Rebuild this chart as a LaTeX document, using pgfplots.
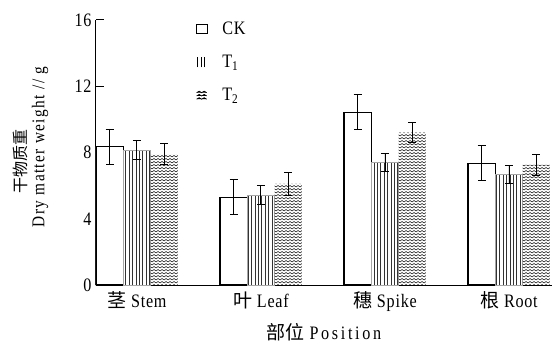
\documentclass[border=0pt]{standalone}
\usepackage{fontspec}
\setmainfont{Liberation Serif}[FakeStretch=0.85, LetterSpace=4]
\newfontfamily\wide{Liberation Serif}[FakeStretch=0.85, LetterSpace=14]
\newfontfamily\midspaced{Liberation Serif}[FakeStretch=0.85, LetterSpace=8]
\newfontfamily\cjk{Noto Sans CJK SC}
\usepackage{pgfplots}
\pgfplotsset{compat=1.18}
\usetikzlibrary{patterns,patterns.meta}
\pgfdeclarepatternformonly{zigzag}{\pgfqpoint{-1pt}{-1pt}}{\pgfqpoint{5pt}{4pt}}{\pgfqpoint{4pt}{3pt}}{%
  \pgfsetlinewidth{0.6pt}%
  \pgfpathmoveto{\pgfqpoint{0pt}{0pt}}%
  \pgfpathlineto{\pgfqpoint{2pt}{1.5pt}}%
  \pgfpathlineto{\pgfqpoint{4pt}{0pt}}%
  \pgfusepath{stroke}}
\begin{document}
\begin{tikzpicture}
\useasboundingbox (-96pt,-58pt) rectangle (456pt,285pt);
\begin{axis}[
  scale only axis, width=456pt, height=265pt,
  xmin=0, xmax=3.677, ymin=0, ymax=16,
  axis x line=bottom, axis y line=left,
  axis line style={-, line width=1pt},
  ytick={0,4,8,12,16},
  tick align=inside,
  major tick length=8pt,
  tick style={black, line width=1pt},
  xtick={0.33,1.33,2.33,3.33},
  xticklabels={{\cjk 茎} Stem,{\cjk 叶} Leaf,{\cjk 穗} Spike,{\cjk 根} Root},
  x tick style={draw=none},
  minor xtick={1,2,3},
  minor tick length=5pt,
  minor x tick style={black, line width=1pt},
  tick label style={font=\fontsize{19}{21}\selectfont},
  /pgf/number format/assume math mode=true,
  yticklabel style={xshift=-1pt},
  xticklabel style={yshift=-3pt},
  xlabel={{\cjk 部位} {\wide Position}},
  xlabel style={font=\fontsize{19}{21}\selectfont, yshift=-5pt},
  legend style={at={(rel axis cs:0.219,1.0)}, anchor=north west, draw=none, fill=none,
    font=\fontsize{19}{21}\selectfont, row sep=15pt, inner sep=0pt},
  legend cell align=left,
  error bars/error bar style={black, line width=0.9pt},
  error bars/error mark options={rotate=90, mark size=4pt, line width=0.9pt, black},
]
\addplot[ybar, bar width=0.22, bar shift=0pt, draw=black, line width=1.2pt, fill=white,
  legend image code/.code={\path (0pt,0pt) (23pt,0pt); \draw[black, fill=white, line width=1pt] (0pt,-4.5pt) rectangle (11pt,4.5pt);},
  error bars/.cd, y dir=both, y explicit]
coordinates {(0.11,8.35) +- (0,1.07) (1.11,5.3) +- (0,1.07) (2.11,10.43) +- (0,1.06) (3.11,7.35) +- (0,1.06)};
\addlegendentry{CK}
\addplot[ybar, bar width=0.22, bar shift=0pt, draw=gray!70, line width=0.5pt,
  pattern={Lines[angle=90, distance=3.4pt, line width=0.8pt]}, pattern color=black!80,
  legend image code/.code={\path (0pt,0pt) (23pt,0pt); \draw[black, line width=1pt] (1pt,-5pt)--(1pt,5pt) (4.5pt,-5pt)--(4.5pt,5pt) (8pt,-5pt)--(8pt,5pt);},
  error bars/.cd, y dir=both, y explicit]
coordinates {(0.33,8.15) +- (0,0.56) (1.33,5.43) +- (0,0.57) (2.33,7.39) +- (0,0.56) (3.33,6.68) +- (0,0.55)};
\addlegendentry{T\textsubscript{1}}
\addplot[ybar, bar width=0.22, bar shift=0pt, draw=none,
  pattern=zigzag, pattern color=black!85,
  legend image code/.code={\path (0pt,0pt) (23pt,0pt); \draw[black, line width=0.7pt] (0pt,-4pt)--(2.5pt,-2.5pt)--(5pt,-4pt)--(7.5pt,-2.5pt)--(10pt,-4pt) (0pt,-0.75pt)--(2.5pt,0.75pt)--(5pt,-0.75pt)--(7.5pt,0.75pt)--(10pt,-0.75pt) (0pt,2.5pt)--(2.5pt,4pt)--(5pt,2.5pt)--(7.5pt,4pt)--(10pt,2.5pt);},
  error bars/.cd, y dir=both, y explicit]
coordinates {(0.55,7.9) +- (0,0.65) (1.55,6.1) +- (0,0.7) (2.55,9.2) +- (0,0.61) (3.55,7.25) +- (0,0.64)};
\addlegendentry{T\textsubscript{2}}
\end{axis}
\node[rotate=90, font=\fontsize{16}{18}\selectfont\cjk] at (-76pt,123pt) {干物质重};
\node[rotate=90, font=\fontsize{18}{20}\selectfont\midspaced] at (-56pt,138pt) {Dry matter weight // g};
\end{tikzpicture}
\end{document}
